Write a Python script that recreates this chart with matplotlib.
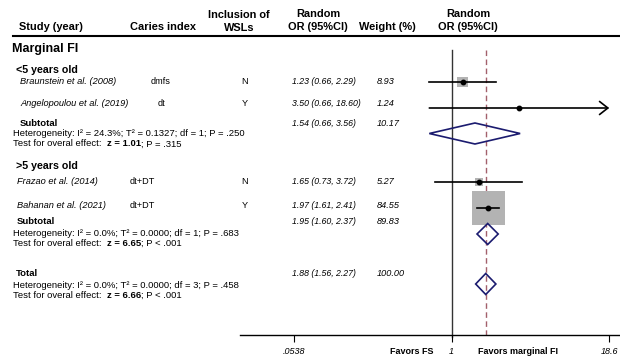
import numpy as np
import matplotlib
matplotlib.use("Agg")
import matplotlib.pyplot as plt
from matplotlib.ticker import NullLocator

plt.rcParams['font.family'] = ['Liberation Sans', 'DejaVu Sans']

# --- data ---
studies = ["Braunstein et al. (2008)", "Angelopoulou et al. (2019)",
           "Frazao et al. (2014)", "Bahanan et al. (2021)"]
caries_index = ["dmfs", "dt", "dt+DT", "dt+DT"]
wsl = ["N", "Y", "N", "Y"]
or_est = [1.23, 3.50, 1.65, 1.97]
or_lo = [0.66, 0.66, 0.73, 1.61]
or_hi = [2.29, 18.60, 3.72, 2.41]
weights = [8.93, 1.24, 5.27, 84.55]

pooled_labels = ["Subtotal", "Subtotal", "Total"]
pooled_est = [1.54, 1.95, 1.88]
pooled_lo = [0.66, 1.60, 1.56]
pooled_hi = [3.56, 2.37, 2.27]
pooled_w = [10.17, 89.83, 100.00]
het_i2 = ["24.3%", "0.0%", "0.0%"]
het_t2 = ["0.1327", "0.0000", "0.0000"]
het_df = [1, 1, 3]
het_p = ["= .250", "= .683", "= .458"]
eff_z = ["1.01", "6.65", "6.66"]
eff_p = ["= .315", "< .001", "< .001"]

group_labels = ["<5 years old", ">5 years old"]
tick_vals = [0.0538, 1, 18.6]
tick_labels = [".0538", "1", "18.6"]

# --- layout (pixel rows of the 620x362 canvas) ---
W, H = 620, 362
axis_y = 335
study_text_y = [81, 104, 181, 205]
study_mark_y = [82, 108, 182, 208]
study_x = [20, 20, 17, 17]
index_x = [161, 162, 142, 142]
pooled_text_y = [123, 222, 274]
pooled_mark_y = [133.5, 234, 284]
pooled_x = [20, 17, 16]
group_y = [70, 166]
x_one = 451.7
px_per_ln = 53.89

fig = plt.figure(figsize=(6.2, 3.62), dpi=100)

tax = fig.add_axes([0, 0, 1, 1])
tax.set_xlim(0, W)
tax.set_ylim(H, 0)
tax.axis('off')

fax = fig.add_axes([240 / W, (H - axis_y) / H, (W - 240) / W, axis_y / H])
fax.set_xscale('log')
fax.set_xlim(np.exp((240 - x_one) / px_per_ln), np.exp((W - x_one) / px_per_ln))
fax.set_ylim(axis_y, 0)
fax.patch.set_alpha(0)
for s in ['top', 'left', 'right']:
    fax.spines[s].set_visible(False)
fax.spines['bottom'].set_linewidth(1.0)
fax.set_yticks([])
fax.set_xticks(tick_vals)
fax.set_xticklabels(tick_labels, fontsize=6.5, style='italic')
fax.xaxis.set_minor_locator(NullLocator())
fax.tick_params(axis='x', length=5, width=0.8, pad=4)

# header
hdr = dict(fontsize=7.9, fontweight='bold', va='center')
tax.text(19, 27, "Study (year)", ha='left', **hdr)
tax.text(163, 27, "Caries index", ha='center', **hdr)
tax.text(239, 15, "Inclusion of", ha='center', **hdr)
tax.text(239, 28, "WSLs", ha='center', **hdr)
tax.text(318, 14, "Random", ha='center', **hdr)
tax.text(318, 27, "OR (95%CI)", ha='center', **hdr)
tax.text(387, 27, "Weight (%)", ha='center', **hdr)
tax.text(468, 14, "Random", ha='center', **hdr)
tax.text(468, 27, "OR (95%CI)", ha='center', **hdr)
tax.plot([13, W], [35.5, 35.5], color='black', lw=1.5)

tax.text(12, 49, "Marginal FI", fontsize=9, fontweight='bold', va='center')
for g, gy in zip(group_labels, group_y):
    tax.text(16, gy, g, fontsize=7.7, fontweight='bold', va='center')

# study rows
for i in range(len(studies)):
    y = study_text_y[i]
    tax.text(study_x[i], y, studies[i], fontsize=6.7, style='italic', va='center')
    tax.text(index_x[i], y, caries_index[i], fontsize=6.6, ha='center', va='center')
    tax.text(245, y, wsl[i], fontsize=6.6, ha='center', va='center')
    tax.text(292, y, f"{or_est[i]:.2f} ({or_lo[i]:.2f}, {or_hi[i]:.2f})",
             fontsize=6.3, style='italic', va='center')
    tax.text(377, y, f"{weights[i]:.2f}", fontsize=6.6, style='italic', va='center')

# pooled rows
for i in range(len(pooled_labels)):
    y = pooled_text_y[i]
    tax.text(pooled_x[i], y, pooled_labels[i], fontsize=6.8, fontweight='bold', va='center')
    tax.text(13, y + 11, f"Heterogeneity: I² = {het_i2[i]}; T² = {het_t2[i]}; "
             f"df = {het_df[i]}; P {het_p[i]}", fontsize=6.8, va='center')
    t1 = tax.text(13, y + 21, "Test for overal effect:  ", fontsize=6.8, va='center')
    t2 = tax.annotate(f"z = {eff_z[i]}", xy=(1, 0.5), xycoords=t1, fontsize=6.8,
                      fontweight='bold', ha='left', va='center')
    tax.annotate(f"; P {eff_p[i]}", xy=(1, 0.5), xycoords=t2, fontsize=6.8,
                 ha='left', va='center')
    tax.text(292, y, f"{pooled_est[i]:.2f} ({pooled_lo[i]:.2f}, {pooled_hi[i]:.2f})",
             fontsize=6.3, style='italic', va='center')
    tax.text(377, y, f"{pooled_w[i]:.2f}", fontsize=6.6, style='italic', va='center')

# forest marks
fax.plot([1, 1], [50, axis_y + 2], color='#333333', lw=1.0, clip_on=False, zorder=1)
fax.plot([pooled_est[-1]] * 2, [50, axis_y], color='#a3606b', lw=1.0,
         ls=(0, (4, 2.5)), zorder=1)
fax.scatter(or_est, study_mark_y, s=[6.7 * w for w in weights], marker='s',
            color='#b3b3b3', zorder=2, linewidths=0)
for i in range(len(studies)):
    y = study_mark_y[i]
    if or_hi[i] >= tick_vals[-1]:
        fax.annotate("", xy=(or_hi[i], y), xytext=(or_lo[i], y),
                     arrowprops=dict(arrowstyle='->,head_length=0.6,head_width=0.47',
                                     color='black', lw=1.2, shrinkA=0, shrinkB=0),
                     zorder=3)
    else:
        fax.plot([or_lo[i], or_hi[i]], [y, y], color='black', lw=1.2, zorder=3)
fax.plot(or_est, study_mark_y, 'o', ms=3.2, color='black', zorder=4)

for i in range(len(pooled_labels)):
    y = pooled_mark_y[i]
    fax.fill([pooled_lo[i], pooled_est[i], pooled_hi[i], pooled_est[i]],
             [y, y - 10.5, y, y + 10.5], facecolor='none', edgecolor='#1b1b6f',
             lw=1.2, zorder=3)

tax.text(433, 352, "Favors FS", fontsize=6.5, fontweight='bold', ha='right', va='center')
tax.text(478, 352, "Favors marginal FI", fontsize=6.5, fontweight='bold', ha='left', va='center')

fig.savefig("out.png", dpi=100)
